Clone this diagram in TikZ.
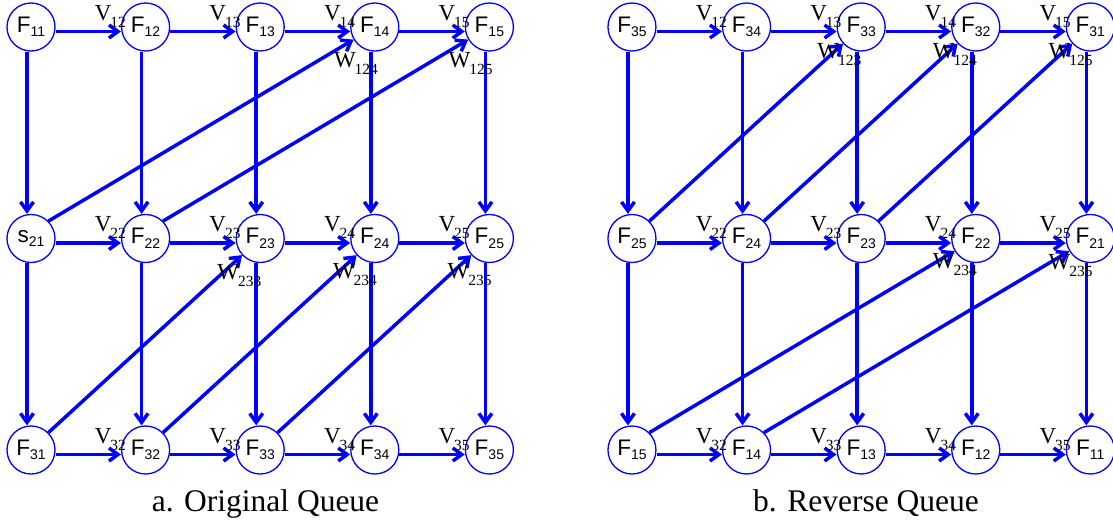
\documentclass[tikz,border=0pt]{standalone}
\usepackage{fontspec}
\setmainfont{Liberation Serif}
\newfontfamily\nodesans{Liberation Sans}
\usetikzlibrary{arrows.meta}

\begin{document}
\begin{tikzpicture}[x=114.6pt,y=-211.5pt]
  \tikzstyle{queue}=[circle,draw=blue,line width=1.3pt,inner sep=0pt,minimum size=48pt,font=\nodesans]
  \tikzstyle{flow}=[draw=blue,line width=3.5pt,-{Straight Barb[length=9pt,width=13pt]}]
  \tikzstyle{weight}=[inner sep=0pt,anchor=base west,font=\rmfamily]
  \tikzstyle{caption}=[inner sep=0pt,anchor=base,font={\rmfamily\fontsize{31.5}{32}\selectfont}]
  \newcommand\qtext[2]{{\fontsize{22.5}{22.5}\selectfont #1}\raisebox{-4.5pt}{\fontsize{14}{14}\selectfont #2}}
  \newcommand\etext[2]{{\fontsize{23}{23}\selectfont #1}\kern-1pt\raisebox{-7pt}{\fontsize{15.5}{15.5}\selectfont #2}}
  \newcommand\queue[5]{\node[queue] at (#1,#2) (#3) {\qtext{#4}{#5}};}
  \newcommand\hflow[2]{\draw[flow] ([yshift=-4.5pt]#1.east) -- ([yshift=-4.5pt]#2.west);}
  \newcommand\vflow[2]{\draw[flow] ([xshift=-4pt]#1.south) -- ([xshift=-4pt]#2.north);}
  \newcommand\vlabel[3]{\node[weight] at ([shift={(-51pt,7pt)}]#1.center) (#2) {\etext{V}{#3}};}
  \newcommand\wlabel[4]{\node[weight] at ([shift={#2}]#1.center) (#3) {\etext{W}{#4}};}
  \useasboundingbox (-31pt,27pt) rectangle (1082pt,-498pt);
  % a. original queue
  \queue{0}{0}{a11}{F}{11}
  \queue{1}{0}{a12}{F}{12}
  \queue{2}{0}{a13}{F}{13}
  \queue{3}{0}{a14}{F}{14}
  \queue{4}{0}{a15}{F}{15}
  \queue{0}{1}{a21}{s}{21}
  \queue{1}{1}{a22}{F}{22}
  \queue{2}{1}{a23}{F}{23}
  \queue{3}{1}{a24}{F}{24}
  \queue{4}{1}{a25}{F}{25}
  \queue{0}{2}{a31}{F}{31}
  \queue{1}{2}{a32}{F}{32}
  \queue{2}{2}{a33}{F}{33}
  \queue{3}{2}{a34}{F}{34}
  \queue{4}{2}{a35}{F}{35}
  \hflow{a11}{a12} \hflow{a12}{a13} \hflow{a13}{a14} \hflow{a14}{a15}
  \hflow{a21}{a22} \hflow{a22}{a23} \hflow{a23}{a24} \hflow{a24}{a25}
  \hflow{a31}{a32} \hflow{a32}{a33} \hflow{a33}{a34} \hflow{a34}{a35}
  \vflow{a11}{a21} \vflow{a12}{a22} \vflow{a13}{a23} \vflow{a14}{a24} \vflow{a15}{a25}
  \vflow{a21}{a31} \vflow{a22}{a32} \vflow{a23}{a33} \vflow{a24}{a34} \vflow{a25}{a35}
  \draw[flow] (a21.45) -- (a14);
  \draw[flow] (a22.45) -- (a15);
  \draw[flow] (a31.45) -- (a23);
  \draw[flow] (a32.45) -- (a24);
  \draw[flow] (a33.45) -- (a25);
  \vlabel{a12}{av12}{12} \vlabel{a13}{av13}{13} \vlabel{a14}{av14}{14} \vlabel{a15}{av15}{15}
  \vlabel{a22}{av22}{22} \vlabel{a23}{av23}{23} \vlabel{a24}{av24}{24} \vlabel{a25}{av25}{25}
  \vlabel{a32}{av32}{32} \vlabel{a33}{av33}{33} \vlabel{a34}{av34}{34} \vlabel{a35}{av35}{35}
  \wlabel{a14}{(-41pt,-40pt)}{aw124}{124}
  \wlabel{a15}{(-41pt,-40pt)}{aw125}{125}
  \wlabel{a23}{(-43pt,-41pt)}{aw233}{233}
  \wlabel{a24}{(-42pt,-40pt)}{aw234}{234}
  \wlabel{a25}{(-42pt,-40pt)}{aw235}{235}
  \node[caption] (capa) at (234.5pt,-484pt) {a. Original Queue};
  % b. reverse queue
  \queue{5.244}{0}{b11}{F}{35}
  \queue{6.244}{0}{b12}{F}{34}
  \queue{7.244}{0}{b13}{F}{33}
  \queue{8.244}{0}{b14}{F}{32}
  \queue{9.244}{0}{b15}{F}{31}
  \queue{5.244}{1}{b21}{F}{25}
  \queue{6.244}{1}{b22}{F}{24}
  \queue{7.244}{1}{b23}{F}{23}
  \queue{8.244}{1}{b24}{F}{22}
  \queue{9.244}{1}{b25}{F}{21}
  \queue{5.244}{2}{b31}{F}{15}
  \queue{6.244}{2}{b32}{F}{14}
  \queue{7.244}{2}{b33}{F}{13}
  \queue{8.244}{2}{b34}{F}{12}
  \queue{9.244}{2}{b35}{F}{11}
  \hflow{b11}{b12} \hflow{b12}{b13} \hflow{b13}{b14} \hflow{b14}{b15}
  \hflow{b21}{b22} \hflow{b22}{b23} \hflow{b23}{b24} \hflow{b24}{b25}
  \hflow{b31}{b32} \hflow{b32}{b33} \hflow{b33}{b34} \hflow{b34}{b35}
  \vflow{b11}{b21} \vflow{b12}{b22} \vflow{b13}{b23} \vflow{b14}{b24} \vflow{b15}{b25}
  \vflow{b21}{b31} \vflow{b22}{b32} \vflow{b23}{b33} \vflow{b24}{b34} \vflow{b25}{b35}
  \draw[flow] (b21.45) -- (b13);
  \draw[flow] (b22.45) -- (b14);
  \draw[flow] (b23.45) -- (b15);
  \draw[flow] (b31.45) -- (b24);
  \draw[flow] (b32.45) -- (b25);
  \vlabel{b12}{bv12}{12} \vlabel{b13}{bv13}{13} \vlabel{b14}{bv14}{14} \vlabel{b15}{bv15}{15}
  \vlabel{b22}{bv22}{22} \vlabel{b23}{bv23}{23} \vlabel{b24}{bv24}{24} \vlabel{b25}{bv25}{25}
  \vlabel{b32}{bv32}{32} \vlabel{b33}{bv33}{33} \vlabel{b34}{bv34}{34} \vlabel{b35}{bv35}{35}
  \wlabel{b13}{(-44pt,-31pt)}{bw123}{123}
  \wlabel{b14}{(-43pt,-31pt)}{bw124}{124}
  \wlabel{b15}{(-42pt,-31pt)}{bw125}{125}
  \wlabel{b24}{(-43pt,-30pt)}{bw234}{234}
  \wlabel{b25}{(-42pt,-31pt)}{bw235}{235}
  \node[caption] (capb) at (835pt,-484pt) {b. Reverse Queue};
\end{tikzpicture}
\end{document}
